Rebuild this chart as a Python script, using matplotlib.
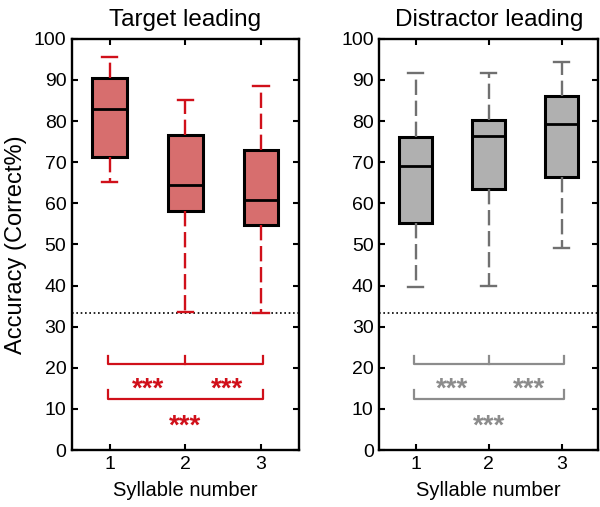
import matplotlib
matplotlib.use("Agg")
import matplotlib.pyplot as plt

plt.rcParams['font.family'] = ['Liberation Sans', 'DejaVu Sans']

# --------------------
# Data
# --------------------
syllables = [1, 2, 3]
tick_labels = ["1", "2", "3"]
yticks = [0, 10, 20, 30, 40, 50, 60, 70, 80, 90, 100]
chance = 100 / 3

# target leading: whisker low, q1, median, q3, whisker high
target_lo = [65.1, 33.6, 33.3]
target_q1 = [71.2, 58.1, 54.7]
target_med = [83.0, 64.5, 60.8]
target_q3 = [90.4, 76.6, 73.0]
target_hi = [95.7, 85.2, 88.6]

# distractor leading
distr_lo = [39.6, 39.9, 49.1]
distr_q1 = [55.2, 63.5, 66.5]
distr_med = [69.1, 76.3, 79.2]
distr_q3 = [76.2, 80.2, 86.0]
distr_hi = [91.6, 91.8, 94.3]

sig_label = "***"

# --------------------
# Figure
# --------------------
fig = plt.figure(figsize=(6.0, 5.07), dpi=100)
ax_l = fig.add_axes([0.12, 0.1124, 0.378, 0.811])
ax_r = fig.add_axes([0.632, 0.1124, 0.365, 0.811])


def draw_panel(ax, lo, q1, med, q3, hi, fill, line, sig_col, title, ylabel=None):
    stats = []
    for i in range(len(syllables)):
        stats.append({"whislo": lo[i], "q1": q1[i], "med": med[i],
                      "q3": q3[i], "whishi": hi[i], "fliers": []})
    ax.bxp(stats, positions=syllables, widths=0.46, patch_artist=True,
           showfliers=False, capwidths=0.2,
           boxprops=dict(facecolor=fill, edgecolor="black", linewidth=2.2),
           medianprops=dict(color="black", linewidth=2.0),
           whiskerprops=dict(color=line, linewidth=1.7, linestyle=(0, (6.5, 2.4))),
           capprops=dict(color=line, linewidth=1.7))

    ax.axhline(chance, color="black", linestyle=(0, (1, 1.6)), linewidth=1.2, zorder=1)

    # significance brackets
    x0, x1 = 0.98, 3.03
    ax.plot([x0, x0, x1, x1], [22.9, 21.0, 21.0, 22.9], color=sig_col, lw=1.6)
    ax.plot([2, 2], [21.0, 22.9], color=sig_col, lw=1.6)
    ax.plot([x0, x0, x1, x1], [14.6, 12.4, 12.4, 14.6], color=sig_col, lw=1.6)
    for sx, sy in [(1.5, 16.9), (2.55, 16.9), (2.0, 8.0)]:
        ax.text(sx, sy - 2.2, sig_label, color=sig_col, fontsize=20, fontweight="bold",
                ha="center", va="center")

    ax.set_xlim(0.5, 3.5)
    ax.set_ylim(0, 100)
    ax.set_xticks(syllables)
    ax.set_xticklabels(tick_labels)
    ax.set_yticks(yticks)
    ax.tick_params(direction="in", length=4, width=1.5, labelsize=14,
                   top=True, right=True, pad=4)
    for sp in ax.spines.values():
        sp.set_linewidth(1.7)
    ax.set_title(title, fontsize=17.5, pad=9)
    ax.set_xlabel("Syllable number", fontsize=14.5, labelpad=6)
    if ylabel:
        ax.set_ylabel(ylabel, fontsize=17, labelpad=5)


draw_panel(ax_l, target_lo, target_q1, target_med, target_q3, target_hi,
           "#D76E6E", "#D0101A", "#D0101A", "Target leading", "Accuracy (Correct%)")
draw_panel(ax_r, distr_lo, distr_q1, distr_med, distr_q3, distr_hi,
           "#B0B0B0", "#707070", "#8C8C8C", "Distractor leading")

fig.savefig("out.png", dpi=100)
